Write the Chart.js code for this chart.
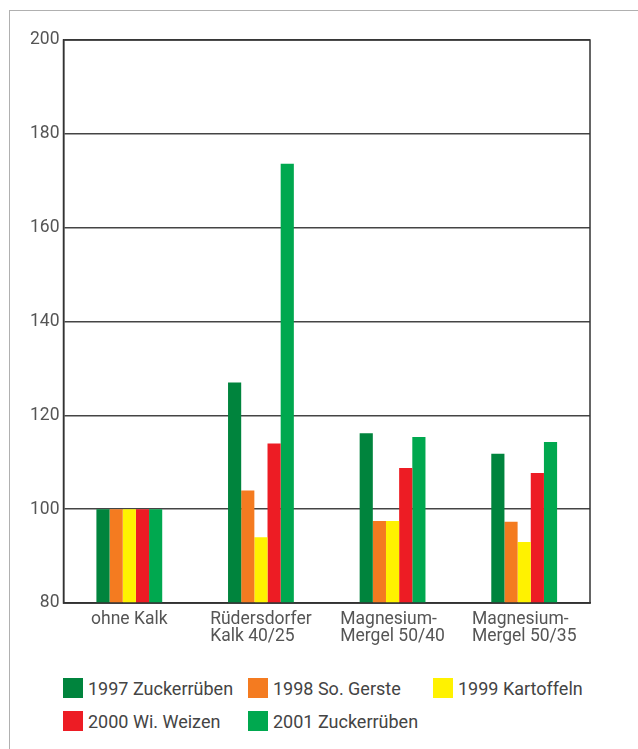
<!DOCTYPE html>
<html>
<head>
<meta charset="utf-8">
<script src="https://cdn.jsdelivr.net/npm/chart.js@4"></script>
<style>
  body { margin: 0; background: #fff; width: 638px; height: 749px; overflow: hidden; position: relative; font-family: Roboto, sans-serif; }
  #frame { position: absolute; left: 9px; top: 10px; width: 640px; height: 760px; border-top: 1.5px solid #b0b0b0; border-left: 1.5px solid #b0b0b0; }
  #wrap { position: absolute; left: 0; top: 0; width: 638px; height: 665px; }
  #legend { position: absolute; left: 63px; top: 678px; width: 570px; display: grid; grid-template-columns: 185px 185px 185px; row-gap: 13px; }
  .item { display: flex; align-items: center; font-size: 18px; color: #444; height: 20px; }
  .box { width: 20px; height: 20px; margin-right: 5px; flex: none; }
</style>
</head>
<body>
<div id="frame"></div>
<div id="wrap"><canvas id="chart"></canvas></div>
<div id="legend"></div>
<script>
const categories = [["ohne Kalk"], ["Rüdersdorfer", "Kalk 40/25"], ["Magnesium-", "Mergel 50/40"], ["Magnesium-", "Mergel 50/35"]];
const seriesNames = ["1997 Zuckerrüben", "1998 So. Gerste", "1999 Kartoffeln", "2000 Wi. Weizen", "2001 Zuckerrüben"];
const seriesColors = ["#00843d", "#f47b20", "#fff200", "#ed1c24", "#00a84f"];
const zucker1997 = [100, 127, 116.2, 111.8];
const gerste1998 = [100, 104, 97.5, 97.3];
const kartoffeln1999 = [100, 94, 97.5, 93];
const weizen2000 = [100, 114, 108.8, 107.7];
const zucker2001 = [100, 173.6, 115.4, 114.3];
const seriesValues = [zucker1997, gerste1998, kartoffeln1999, weizen2000, zucker2001];
const yTicks = [80, 100, 120, 140, 160, 180, 200];

const tickFont = { family: "Roboto, sans-serif", size: 17.5 };

// x labels: each block centred under its group, lines left-aligned inside the block
const xLabels = {
  id: "xLabels",
  afterDraw(c) {
    const x = c.scales.x;
    const ctx = c.ctx;
    ctx.save();
    ctx.font = `${tickFont.size}px ${tickFont.family}`;
    ctx.fillStyle = "#555";
    ctx.textAlign = "left";
    ctx.textBaseline = "top";
    categories.forEach((lines, i) => {
      const w = Math.max(...lines.map((l) => ctx.measureText(l).width));
      const left = x.getPixelForValue(i) - w / 2;
      lines.forEach((l, j) => ctx.fillText(l, left, x.top + 8 + j * 17));
    });
    ctx.restore();
  },
};

const frameBox = {
  id: "frameBox",
  afterDraw(c) {
    const a = c.chartArea;
    const ctx = c.ctx;
    ctx.save();
    ctx.strokeStyle = "#333";
    ctx.lineWidth = 1.5;
    ctx.strokeRect(a.left, a.top, a.right - a.left, a.bottom - a.top);
    ctx.restore();
  },
};

const chart = new Chart(document.getElementById("chart"), {
  type: "bar",
  data: {
    labels: categories,
    datasets: seriesNames.map((name, i) => ({
      label: name,
      data: seriesValues[i],
      backgroundColor: seriesColors[i],
      borderWidth: 0,
      categoryPercentage: 0.5,
      barPercentage: 1.0,
    })),
  },
  options: {
    responsive: true,
    maintainAspectRatio: false,
    animation: false,
    layout: { padding: { top: 40, right: 48, left: 0, bottom: 0 } },
    plugins: {
      legend: { display: false },
      tooltip: { enabled: false },
    },
    scales: {
      x: {
        grid: { display: false, drawTicks: false },
        border: { display: true, color: "#333", width: 1.5 },
        ticks: { display: false },
        afterFit: (s) => { s.height = 62; },
      },
      y: {
        min: 80,
        max: 200,
        afterBuildTicks: (s) => { s.ticks = yTicks.map((v) => ({ value: v })); },
        grid: { color: "#444", lineWidth: 1.5, drawTicks: false },
        border: { display: true, color: "#333", width: 1.5 },
        ticks: { color: "#555", font: tickFont, padding: 4 },
        afterFit: (s) => { s.width = 63.5; },
      },
    },
  },
  plugins: [xLabels, frameBox],
});

const legendEl = document.getElementById("legend");
seriesNames.forEach((name, i) => {
  const item = document.createElement("div");
  item.className = "item";
  item.innerHTML = `<span class="box" style="background:${seriesColors[i]}"></span>${name}`;
  legendEl.appendChild(item);
});
</script>
</body>
</html>
